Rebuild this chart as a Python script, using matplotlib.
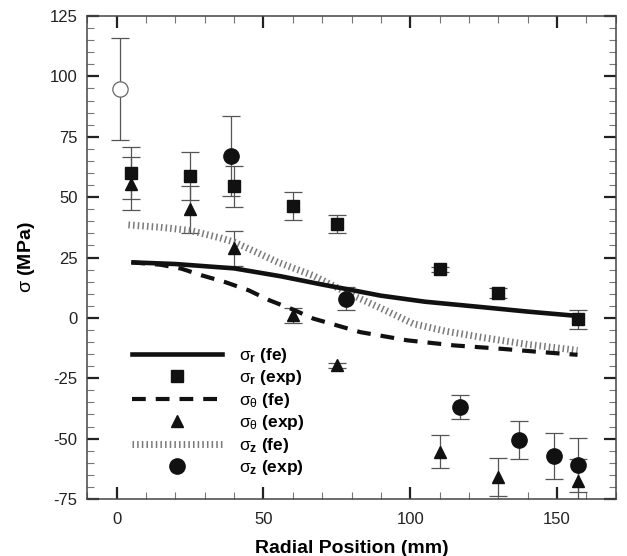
import matplotlib
matplotlib.use("Agg")
import matplotlib.pyplot as plt
from matplotlib.lines import Line2D
from matplotlib.ticker import MultipleLocator

plt.rcParams['font.family'] = ['Liberation Sans', 'DejaVu Sans']
plt.rcParams['mathtext.fontset'] = 'custom'
plt.rcParams['mathtext.rm'] = 'Liberation Sans'
plt.rcParams['mathtext.it'] = 'Liberation Sans'
plt.rcParams['mathtext.bf'] = 'Liberation Sans:bold'
plt.rcParams['axes.unicode_minus'] = False

# ---- FE curves ----
r_fe_x = [5, 20, 40, 56, 70, 78, 90, 105, 124, 140, 157]
r_fe_y = [23.0, 22.3, 20.5, 17.2, 13.8, 12.0, 9.2, 6.7, 4.5, 2.6, 0.8]

t_fe_x = [5, 15, 22, 29, 37, 45, 52, 60, 67, 83, 99, 115, 131, 145, 157]
t_fe_y = [23.0, 22.0, 20.4, 17.6, 14.8, 11.4, 7.3, 3.5, -0.3, -5.9, -9.3, -11.4, -12.8, -14.2, -15.3]

z_fe_x = [4, 15, 25, 35, 40, 47, 55, 67, 78, 90, 101, 112, 124, 140, 154, 157]
z_fe_y = [38.5, 37.5, 36.2, 33.2, 31.4, 27.5, 23.0, 17.5, 10.7, 4.0, -2.4, -5.5, -8.0, -11.0, -13.0, -13.5]

# ---- experimental ----
r_exp_x = [5, 25, 40, 60, 75, 110, 130, 157]
r_exp_y = [60.0, 58.7, 54.5, 46.2, 38.8, 20.1, 10.3, -0.6]
r_exp_e = [10.8, 10.0, 8.5, 5.8, 3.8, 1.0, 2.0, 3.9]

t_exp_x = [5, 25, 40, 60, 75, 110, 130, 157]
t_exp_y = [55.6, 45.0, 28.8, 1.0, -19.7, -55.5, -65.9, -67.5]
t_exp_e = [11.0, 9.8, 7.2, 3.0, 1.0, 6.8, 8.0, 9.0]

z_exp_x = [39, 78, 117, 137, 149, 157]
z_exp_y = [67.0, 8.0, -36.8, -50.5, -57.2, -60.9]
z_exp_e = [16.5, 4.6, 5.0, 8.0, 9.5, 11.0]

z_open_x = [1]
z_open_y = [94.7]
z_open_e = [21.0]

labels = [r'$\sigma_{\mathbf{r}}$ (fe)', r'$\sigma_{\mathbf{r}}$ (exp)',
          r'$\sigma_{\theta}$ (fe)', r'$\sigma_{\theta}$ (exp)',
          r'$\sigma_{\mathbf{z}}$ (fe)', r'$\sigma_{\mathbf{z}}$ (exp)']

fig = plt.figure(figsize=(6.27, 5.56), dpi=100)
ax = fig.add_axes([87.3/627, 1-499/556, (615.7-87.3)/627, (499-16)/556])

ecol = '#555555'
ekw = dict(fmt='none', ecolor=ecol, elinewidth=0.9, capsize=6.3, capthick=0.9, zorder=2)
ax.errorbar(r_exp_x, r_exp_y, yerr=r_exp_e, **ekw)
ax.errorbar(t_exp_x, t_exp_y, yerr=t_exp_e, **ekw)
ax.errorbar(z_exp_x, z_exp_y, yerr=z_exp_e, **ekw)
ax.errorbar(z_open_x, z_open_y, yerr=z_open_e, **ekw)

dot_style = dict(color='#7a7a7a', lw=5.0, linestyle=(0, (0.22, 0.45)), dash_capstyle='butt', solid_capstyle='butt')
ax.plot(z_fe_x, z_fe_y, zorder=3, **dot_style)
ax.plot(t_fe_x, t_fe_y, color='#111111', lw=3.0, linestyle=(0, (3.3, 2.4)), dash_capstyle='butt', zorder=4)
ax.plot(r_fe_x, r_fe_y, color='#111111', lw=3.3, solid_capstyle='butt', zorder=4)

ax.plot(r_exp_x, r_exp_y, 's', color='#111111', ms=8, mec='#111111', zorder=5)
ax.plot(t_exp_x, t_exp_y, '^', color='#111111', ms=9, mec='#111111', zorder=5)
ax.plot(z_exp_x, z_exp_y, 'o', color='#111111', ms=11, mec='#111111', zorder=5)
ax.plot(z_open_x, z_open_y, 'o', mfc='white', mec='#666666', mew=0.9, ms=11, zorder=5)

ax.set_xlim(-10, 170)
ax.set_ylim(-75, 125)
ax.xaxis.set_major_locator(MultipleLocator(50))
ax.xaxis.set_minor_locator(MultipleLocator(10))
ax.yaxis.set_major_locator(MultipleLocator(25))
ax.yaxis.set_minor_locator(MultipleLocator(5))

ax.tick_params(which='both', direction='in', top=True, right=True)
ax.tick_params(which='major', length=8.6, width=1.6, color='#222222', labelsize=12, labelcolor='#222222')
ax.tick_params(axis='x', which='major', pad=9)
ax.tick_params(axis='y', which='major', pad=7)
ax.tick_params(which='minor', length=5, width=0.8, color='#777777')
for s in ax.spines.values():
    s.set_linewidth(1.1)
    s.set_color('#444444')

ax.set_xlabel('Radial Position (mm)', fontsize=14, fontweight='bold', labelpad=10)
ax.set_ylabel(r'$\sigma$ (MPa)', fontsize=14, fontweight='bold', labelpad=9)

handles = [
    Line2D([], [], color='#111111', lw=3.3),
    Line2D([], [], marker='s', ls='none', color='#111111', ms=8),
    Line2D([], [], color='#111111', lw=3.0, linestyle=(0, (3.3, 2.4))),
    Line2D([], [], marker='^', ls='none', color='#111111', ms=9),
    Line2D([], [], **dot_style),
    Line2D([], [], marker='o', ls='none', color='#111111', ms=11),
]
leg = ax.legend(handles, labels, loc='upper left',
                bbox_to_anchor=((131.7-87.3)/528.4, 1-(346-16)/483),
                frameon=False, fontsize=12.5, handlelength=5.2, handletextpad=1.0,
                labelspacing=0.2, borderpad=0, borderaxespad=0)
for t in leg.get_texts():
    t.set_fontweight('bold')

fig.savefig('out.png', dpi=100)
